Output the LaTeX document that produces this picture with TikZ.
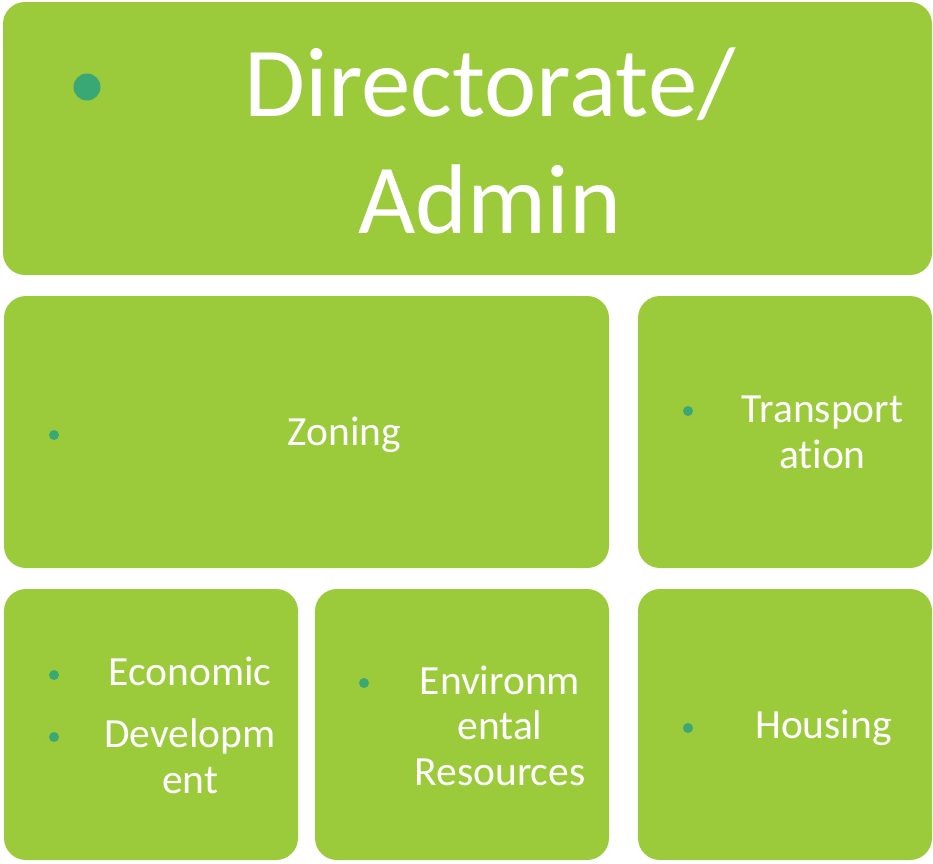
\documentclass[tikz,border=0pt]{standalone}
\usepackage{fontspec}
\setmainfont{Carlito}[Ligatures=NoCommon]
\usepackage{tikz}
\usetikzlibrary{positioning}
\definecolor{boxgreen}{HTML}{9BCB3B}
\definecolor{dotgreen}{HTML}{3AA874}

\begin{document}
\begin{tikzpicture}[
    x=1pt, y=-1pt,
    unit/.style={
		rectangle,
		rounded corners=22pt,
		fill=boxgreen,
		draw=none
	},
	bigtext/.style={
		anchor=base,
		align=center,
		text=white,
		font=\fontsize{99}{117}\selectfont
	},
	smalltext/.style={
		anchor=base,
		align=center,
		text=white,
		font=\fontsize{41.5}{45.5}\selectfont
	},
	dot/.style={
		circle,
		fill=dotgreen,
		inner sep=0pt,
		minimum size=10pt
	}
  ]
    \useasboundingbox (0,0) rectangle (933,863);

    % We start by placing the blocks
  \node [unit, minimum width=929pt, minimum height=273pt] (admin) at (467.5,138.5) {};
  \node [unit, minimum width=605pt, minimum height=272pt] (zoning) at (306.5,432) {};
  \node [unit, minimum width=294pt, minimum height=272pt] (transport) at (785,432) {};
  \node [unit, minimum width=294pt, minimum height=271pt] (economic) at (151,724.5) {};
  \node [unit, minimum width=294pt, minimum height=271pt] (environ) at (462,724.5) {};
  \node [unit, minimum width=294pt, minimum height=271pt] (housing) at (785,724.5) {};

    % then the bullets
  \node [dot, minimum size=27pt] (adminbul) at (87,87) {};
  \node [dot] (zoningbul) at (54,435) {};
  \node [dot] (transportbul) at (688,411) {};
  \node [dot] (economicbul) at (54,675) {};
  \node [dot] (developbul) at (54,737) {};
  \node [dot] (environbul) at (364,683) {};
  \node [dot] (housingbul) at (688,728) {};

    % and the texts (base = last line)
  \node [bigtext] (admintext) at (490,233) {Directorate/\\Admin};
  \node [smalltext] (zoningtext) at (344.5,445) {Zoning};
  \node [smalltext] (transporttext) at (822.5,468) {Transport\\ation};
  \node [smalltext] (economictext) at (190,685) {Economic};
  \node [smalltext] (developtext) at (190,793) {Developm\\ent};
  \node [smalltext] (environtext) at (500,785) {Environm\\ental\\Resources};
  \node [smalltext] (housingtext) at (823.5,738) {Housing};

\end{tikzpicture}
\end{document}
